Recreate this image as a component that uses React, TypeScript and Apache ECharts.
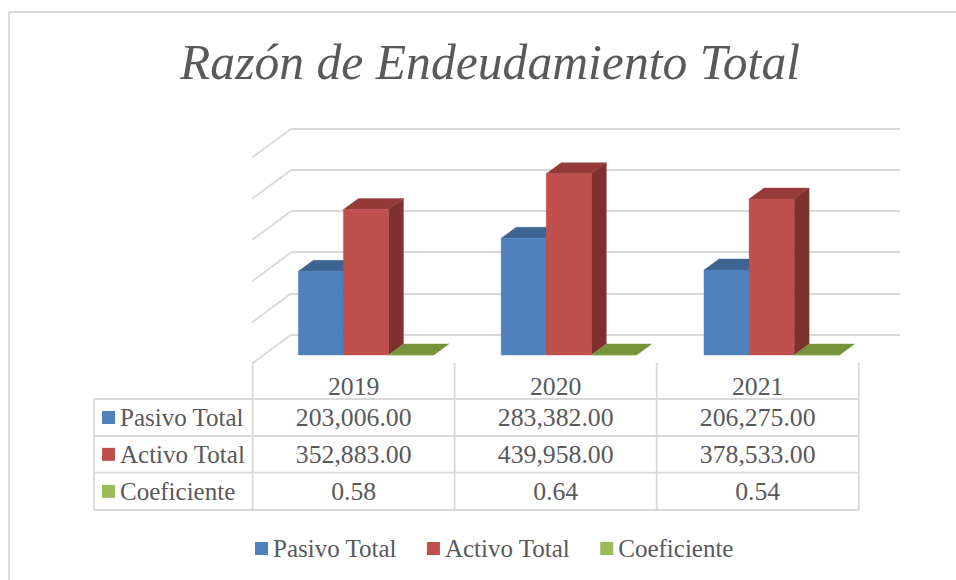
import React, { useEffect, useRef } from "react";
import * as echarts from "echarts";

const years = ["2019", "2020", "2021"];
const pasivoTotal = [203006, 283382, 206275];
const activoTotal = [352883, 439958, 378533];
const coeficiente = [0.58, 0.64, 0.54];
const axisTicks = [0, 100000, 200000, 300000, 400000, 500000];
const seriesNames = ["Pasivo Total", "Activo Total", "Coeficiente"];
const titleText = "Razón de Endeudamiento Total";

const FONT = "'Liberation Serif'";
const TEXT = "#595959";
const GRID = "#D9D9D9";
const LEGEND_COLORS = ["#4F81BD", "#C0504D", "#9BBB59"];
const BAR_COLORS = [
  { front: "#4F81BD", top: "#3E6491", side: "#375A83" },
  { front: "#C0504D", top: "#943A38", side: "#7E312F" },
  { front: "#9BBB59", top: "#77933C", side: "#6A8535" },
];

const money = (v: number) =>
  v.toLocaleString("en-US", { minimumFractionDigits: 2, maximumFractionDigits: 2 });

const rows = [
  { name: seriesNames[0], color: LEGEND_COLORS[0], cells: pasivoTotal.map(money) },
  { name: seriesNames[1], color: LEGEND_COLORS[1], cells: activoTotal.map(money) },
  { name: seriesNames[2], color: LEGEND_COLORS[2], cells: coeficiente.map((v) => v.toFixed(2)) },
];

// 3D projection constants
const FLOOR_DX = 27;
const FLOOR_DY = 20.5;
const DEPTH_DX = 15;
const DEPTH_DY = 11;
const WALL_DX = 39.3;
const WALL_DY = 29;

const barRenderer = (seriesPos: number) => (_params: any, api: any) => {
  const cat = api.value(0);
  const val = api.value(1);
  const [cx, y1] = api.coord([cat, val]);
  const [, y0] = api.coord([cat, 0]);
  const band = api.size([1, 0])[0];
  const w = band * 0.2222;
  const x0 = cx - FLOOR_DX - 1.5 * w + seriesPos * w;
  const x1 = x0 + w;
  const base = y0 + FLOOR_DY;
  const top = y1 + FLOOR_DY;
  const c = BAR_COLORS[seriesPos];
  const poly = (points: number[][], fill: string) => ({
    type: "polygon",
    shape: { points },
    style: { fill, stroke: fill, lineWidth: 0.4 },
  });
  return {
    type: "group",
    children: [
      poly(
        [[x1, base], [x1 + DEPTH_DX, base - DEPTH_DY], [x1 + DEPTH_DX, top - DEPTH_DY], [x1, top]],
        c.side
      ),
      poly(
        [[x0, top], [x0 + DEPTH_DX, top - DEPTH_DY], [x1 + DEPTH_DX, top - DEPTH_DY], [x1, top]],
        c.top
      ),
      poly([[x0, base], [x1, base], [x1, top], [x0, top]], c.front),
    ],
  };
};

const wallRenderer = (_params: any, api: any) => {
  const [x, y] = api.coord([0, api.value(0)]);
  const left = x - api.size([1, 0])[0] / 2;
  return {
    type: "line",
    shape: { x1: left, y1: y, x2: left - WALL_DX, y2: y + WALL_DY },
    style: { stroke: GRID, lineWidth: 1.8 },
  };
};

const tableLeft = 94;
const colX = [252.7, 454.7, 656.7, 858.7];
const rowY = [399, 436, 472.7, 510];
const tableTop = 363;

function buildGraphic() {
  const line = (x1: number, y1: number, x2: number, y2: number) => ({
    type: "line",
    shape: { x1, y1, x2, y2 },
    style: { stroke: GRID, lineWidth: 1.8 },
    silent: true,
  });
  const text = (str: string, x: number, y: number, align: string, sx: number) => ({
    type: "text",
    x,
    y,
    scaleX: sx,
    style: {
      text: str,
      fill: TEXT,
      font: `25px ${FONT}`,
      textAlign: align,
      textVerticalAlign: "middle",
    },
    silent: true,
  });
  const els: any[] = [];
  els.push({
    type: "text",
    x: 490,
    y: 62,
    scaleX: 0.993,
    style: {
      text: titleText,
      fill: TEXT,
      font: `italic 50px ${FONT}`,
      textAlign: "center",
      textVerticalAlign: "middle",
    },
  });
  els.push(line(9, 12, 9, 580), line(9, 12, 956, 12));
  rowY.forEach((y) => els.push(line(tableLeft, y, colX[3], y)));
  els.push(line(tableLeft, rowY[0], tableLeft, rowY[3]));
  colX.forEach((x) => els.push(line(x, tableTop, x, rowY[3])));
  years.forEach((yr, i) => els.push(text(yr, (colX[i] + colX[i + 1]) / 2, 386, "center", 1.03)));
  rows.forEach((r, ri) => {
    const cy = (rowY[ri] + rowY[ri + 1]) / 2;
    els.push({
      type: "rect",
      shape: { x: 102, y: cy - 6.5, width: 13, height: 13 },
      style: { fill: r.color },
    });
    els.push(text(r.name, 120, cy, "left", 1));
    r.cells.forEach((c, i) => els.push(text(c, (colX[i] + colX[i + 1]) / 2, cy, "center", 1.03)));
  });
  return els;
}

export default function App() {
  const ref = useRef<HTMLDivElement>(null);
  useEffect(() => {
    const chart = echarts.init(ref.current!, null, { renderer: "svg" });
    const dataOf = (vals: number[]) => vals.map((v, i) => [i, v]);
    chart.setOption({
      animation: false,
      backgroundColor: "#fff",
      grid: { left: 291.5, top: 128.5, width: 608.5, height: 206 },
      xAxis: {
        type: "category",
        data: years,
        axisLine: { show: false },
        axisTick: { show: false },
        axisLabel: { show: false },
      },
      yAxis: {
        type: "value",
        min: 0,
        max: 500000,
        interval: 100000,
        axisLine: { show: false },
        axisTick: { show: false },
        axisLabel: { show: false },
        splitLine: { lineStyle: { color: GRID, width: 1.8 } },
      },
      legend: {
        data: seriesNames,
        left: 250,
        top: 531,
        icon: "rect",
        itemWidth: 13,
        itemHeight: 13,
        itemGap: 30,
        textStyle: { fontFamily: FONT, fontSize: 25, color: TEXT },
      },
      graphic: buildGraphic(),
      series: [
        {
          name: "wall",
          type: "custom",
          renderItem: wallRenderer,
          data: axisTicks.map((v) => [v]),
          encode: { y: 0 },
          silent: true,
          z: 1,
        },
        ...[pasivoTotal, activoTotal, coeficiente].map((vals, i) => ({
          name: seriesNames[i],
          type: "custom",
          renderItem: barRenderer(i),
          data: dataOf(vals),
          encode: { x: 0, y: 1 },
          itemStyle: { color: LEGEND_COLORS[i] },
          z: 2 + i,
        })),
      ],
    });
    return () => chart.dispose();
  }, []);
  return (
    <div
      ref={ref}
      style={{ position: "absolute", left: 0, top: 0, width: 956, height: 580, overflow: "hidden" }}
    />
  );
}
